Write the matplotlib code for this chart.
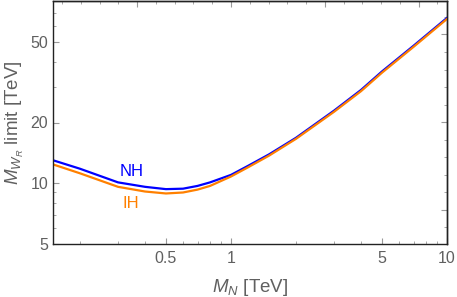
import numpy as np
import matplotlib
matplotlib.use("Agg")
import matplotlib.pyplot as plt
from matplotlib.ticker import FixedLocator, NullFormatter, FixedFormatter

# M_N in TeV and the W_R mass limit for both hierarchies
m_n = [0.15, 0.2, 0.3, 0.4, 0.5, 0.6, 0.7, 0.8, 1.0, 1.2, 1.5, 2.0, 3.0, 4.0, 5.0, 7.0, 10.0]
limit_nh = [13.0, 11.8, 10.1, 9.6, 9.35, 9.4, 9.7, 10.1, 11.0, 12.2, 13.9, 16.8, 22.9, 29.0, 35.8, 48.0, 66.0]
limit_ih = [12.4, 11.2, 9.6, 9.1, 8.9, 9.0, 9.3, 9.7, 10.8, 12.0, 13.7, 16.6, 22.6, 28.6, 35.3, 47.4, 65.2]

x_ticks = [0.5, 1, 5, 10]
x_labels = ["0.5", "1", "5", "10"]
y_ticks = [5, 10, 20, 50]
y_labels = ["5", "10", "20", "50"]

plt.rcParams["font.family"] = ["Liberation Sans", "DejaVu Sans"]
plt.rcParams["mathtext.fontset"] = "custom"
plt.rcParams["mathtext.rm"] = "Liberation Sans"
plt.rcParams["mathtext.it"] = "Liberation Sans:italic"

text_col = "#606060"
tick_col = "#999999"

fig = plt.figure(figsize=(4.57, 2.97), dpi=100)
ax = fig.add_axes([53 / 457, 1 - 244 / 297, 394 / 457, 243 / 297])

ax.plot(m_n, limit_nh, color=(0, 0, 1), lw=1.6)
ax.plot(m_n, limit_ih, color=(1, 0.5, 0), lw=1.6)

ax.set_xscale("log")
ax.set_yscale("log")
ax.set_xlim(0.15, 10)
ax.set_ylim(5, 80)

# bottom / left ticks
x_minor = [v for v in np.arange(0.2, 1.0, 0.1)] + [2, 3, 4, 6, 7, 8, 9]
x_minor = [v for v in x_minor if abs(v - 0.5) > 1e-6]
y_minor = [6, 7, 8, 9, 30, 40, 60, 70]
ax.xaxis.set_major_locator(FixedLocator(x_ticks))
ax.xaxis.set_major_formatter(FixedFormatter(x_labels))
ax.xaxis.set_minor_locator(FixedLocator(x_minor))
ax.xaxis.set_minor_formatter(NullFormatter())
ax.yaxis.set_major_locator(FixedLocator(y_ticks))
ax.yaxis.set_major_formatter(FixedFormatter(y_labels))
ax.yaxis.set_minor_locator(FixedLocator(y_minor))
ax.yaxis.set_minor_formatter(NullFormatter())
ax.tick_params(which="both", direction="in", colors=tick_col, labelcolor=text_col,
               labelsize=11.5, top=False, right=False)
ax.tick_params(axis="x", which="major", pad=5)
ax.tick_params(which="major", length=4, width=0.8)
ax.tick_params(which="minor", length=2.2, width=0.6)

# top / right frame: ticks uniform in ln
ln_x = np.arange(-1.8, 2.4, 0.2)
ln_y = np.arange(1.8, 4.4, 0.2)
for twin, vals, is_x in [(ax.secondary_xaxis("top"), ln_x, True),
                          (ax.secondary_yaxis("right"), ln_y, False)]:
    major = [np.exp(v) for v in vals if abs(v - round(v)) < 1e-6]
    minor = [np.exp(v) for v in vals if abs(v - round(v)) >= 1e-6]
    axis = twin.xaxis if is_x else twin.yaxis
    axis.set_major_locator(FixedLocator(major))
    axis.set_minor_locator(FixedLocator(minor))
    axis.set_major_formatter(NullFormatter())
    axis.set_minor_formatter(NullFormatter())
    twin.tick_params(which="both", direction="in", colors=tick_col)
    twin.tick_params(which="major", length=4, width=0.8)
    twin.tick_params(which="minor", length=2.2, width=0.6)
    for s in twin.spines.values():
        s.set_color("#222222")
        s.set_linewidth(1.0)

for s in ax.spines.values():
    s.set_color("#222222")
    s.set_linewidth(1.0)

ax.text(0.348, 11.5, "NH", color=(0, 0, 1), fontsize=12, ha="center", va="center")
ax.text(0.345, 7.9, "IH", color=(1, 0.5, 0), fontsize=12, ha="center", va="center")

ax.set_xlabel(r"$M_N$ [TeV]", color=text_col, fontsize=13.5)
ax.set_ylabel(r"$M_{W_R}$ limit [TeV]", color=text_col, fontsize=13.5)
ax.xaxis.set_label_coords(0.5, -0.135)
ax.yaxis.set_label_coords(-0.068, 0.5)

fig.savefig("out.png", dpi=100)
